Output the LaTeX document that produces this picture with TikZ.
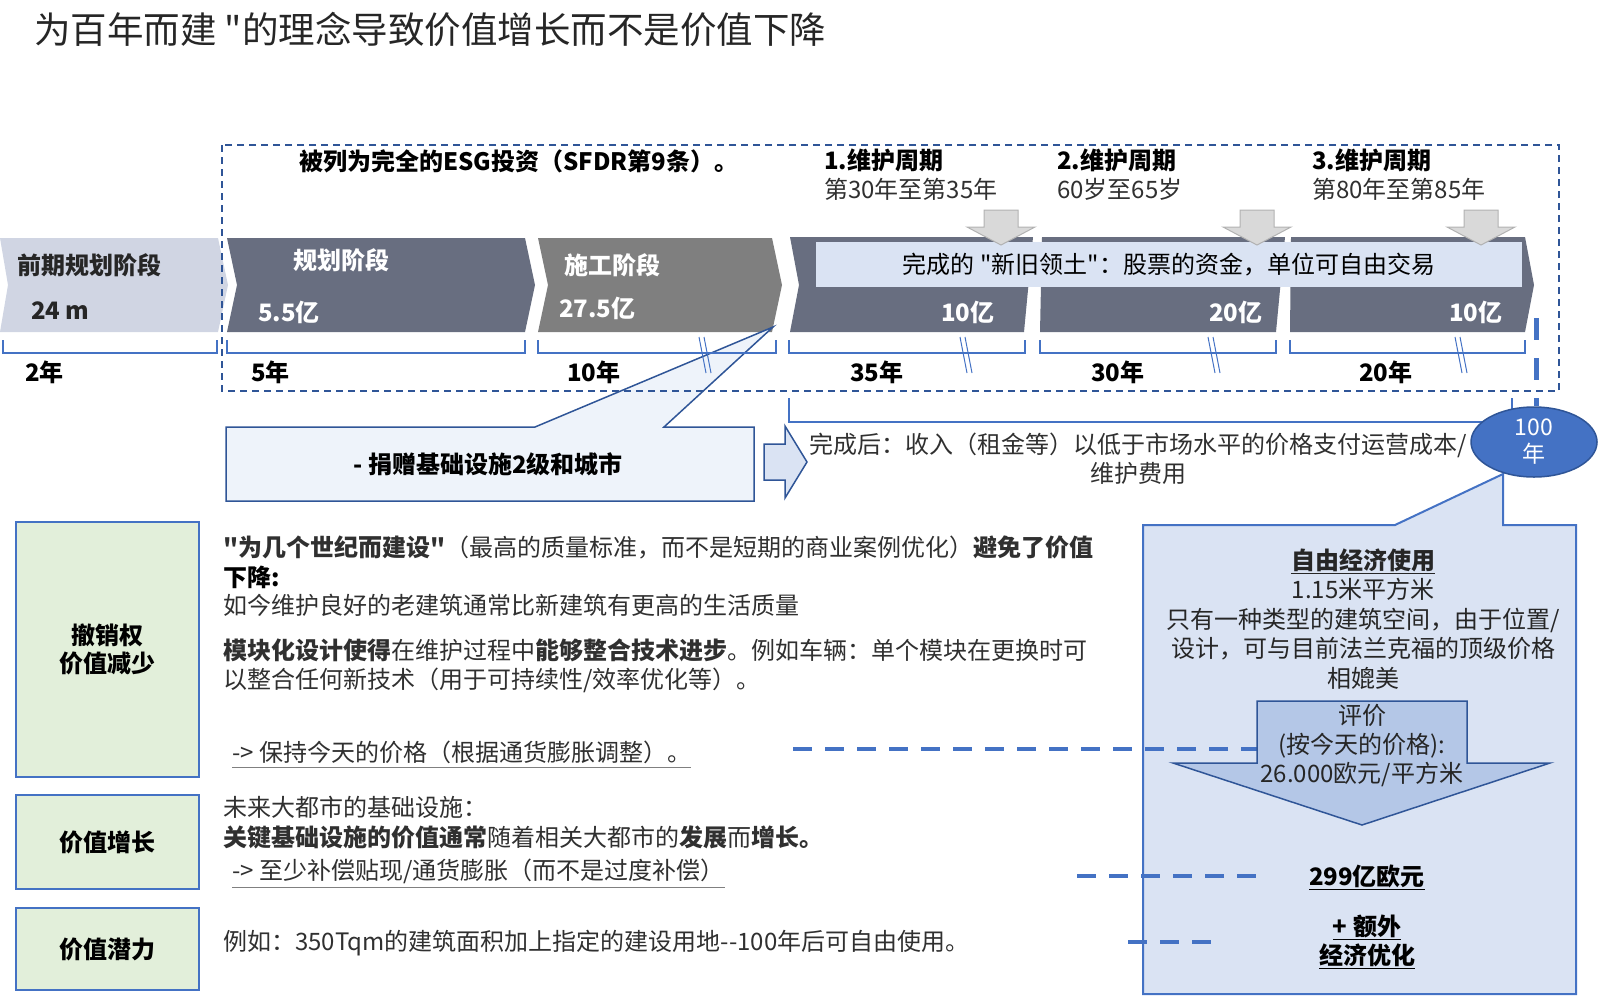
\documentclass[tikz,border=0pt]{standalone}
\usepackage{fontspec}
\setmainfont{Noto Sans CJK SC}
\usepackage{xcolor}
\usepackage{tikz}
\usetikzlibrary{shapes,arrows,positioning,fit}
\usetikzlibrary{shapes.geometric, arrows.meta}

\definecolor{chevlight}{HTML}{D0D5E3}
\definecolor{chevdark}{HTML}{686E80}
\definecolor{chevgray}{HTML}{7F7F7F}
\definecolor{barblue}{HTML}{DAE3F3}
\definecolor{lineblue}{HTML}{4472C4}
\definecolor{navy}{HTML}{2F5597}
\definecolor{calloutfill}{HTML}{EEF3FA}
\definecolor{greenfill}{HTML}{E2EFDA}
\definecolor{arrowgray}{HTML}{D9D9D9}
\definecolor{arrowfill}{HTML}{B4C7E7}
\definecolor{textgray}{HTML}{303030}
\newcommand{\dq}{\XeTeXglyph\XeTeXcharglyph"22\relax}

\begin{document}
\begin{tikzpicture}[x=1pt, y=-1pt]
    \tikzstyle{txt} = [font=\fontsize{24}{29}\selectfont, inner sep=0pt, text=textgray, anchor=west]
    \tikzstyle{btxt} = [txt, font=\fontsize{24}{29}\selectfont\bfseries, text=black]
    \tikzstyle{wtxt} = [btxt, text=white]
    \tikzstyle{brk} = [draw=lineblue, line width=1.3pt]
    \tikzstyle{greenbox} = [rectangle, draw=lineblue, line width=2pt, fill=greenfill,
        minimum width=183pt, font=\fontsize{24}{28}\selectfont\bfseries, align=center]
    \tikzstyle{dashlink} = [draw=lineblue, line width=4pt, dash pattern=on 19pt off 13pt]
    \useasboundingbox (0,0) rectangle (1600,996);

    \node[txt, font=\fontsize{36.5}{42}\selectfont, text=black!85] (title) at (34,29) {为百年而建 \dq 的理念导致价值增长而不是价值下降};

    % Phases
    \fill[chevlight] (0,238) -- (218,238) -- (228,285) -- (218,332) -- (0,332) -- (8,285) -- cycle;
    \fill[chevdark] (227,238) -- (525,238) -- (535,285) -- (525,332) -- (227,332) -- (237,285) -- cycle;
    \fill[chevgray] (538,238) -- (772,238) -- (782,285) -- (772,332) -- (538,332) -- (548,285) -- cycle;
    \fill[chevdark] (790,237) -- (1033,237) -- (1024,332) -- (790,332) -- (799,285) -- cycle;
    \fill[chevdark] (1042,237) -- (1285,237) -- (1276,332) -- (1040,332) -- cycle;
    \fill[chevdark] (1291,237) -- (1525,237) -- (1534,285) -- (1525,332) -- (1290,332) -- cycle;
    \node[rectangle, fill=barblue, minimum width=706pt, minimum height=45pt, inner sep=0pt,
        font=\fontsize{24}{29}\selectfont, text=black] (bar) at (1169,264.5) {完成的 \dq 新旧领土\dq ：股票的资金，单位可自由交易};

    \foreach \x in {1001,1257,1481}
        \draw[draw=black!30, fill=arrowgray, line width=1pt] (\x-17,210) -- (\x+17,210) -- (\x+17,227)
            -- (\x+34,227) -- (\x,245) -- (\x-34,227) -- (\x-17,227) -- cycle;

    \node[btxt, text=black!85] (pre) at (17,265) {前期规划阶段};
    \node[btxt, text=black!85] (premonths) at (31,311) {24 m};
    \node[wtxt] (plan) at (293,260) {规划阶段};
    \node[wtxt] (plancost) at (258,312) {5.5亿};
    \node[wtxt] (build) at (564,265) {施工阶段};
    \node[wtxt] (buildcost) at (559,308) {27.5亿};
    \node[wtxt] (costa) at (941,312) {10亿};
    \node[wtxt] (costb) at (1209,312) {20亿};
    \node[wtxt] (costc) at (1449,312) {10亿};

    \node[btxt] (esg) at (299,161) {被列为完全的ESG投资（SFDR第9条）。};
    \node[btxt] (cyclea) at (824,160) {1.维护周期};
    \node[txt] (cycleayears) at (824,189) {第30年至第35年};
    \node[btxt] (cycleb) at (1057,160) {2.维护周期};
    \node[txt] (cyclebyears) at (1057,189) {60岁至65岁};
    \node[btxt] (cyclec) at (1312,160) {3.维护周期};
    \node[txt] (cyclecyears) at (1312,189) {第80年至第85年};

    % Callout
    \draw[navy, line width=1.5pt, fill=calloutfill] (226,427) -- (535,427) -- (773,327) -- (664,427)
        -- (754,427) -- (754,501) -- (226,501) -- cycle;
    \node[btxt, anchor=center] (donate) at (488,464) {- 捐赠基础设施2级和城市};

    % Brackets
    \foreach \a/\b in {3/217, 227/525, 538/776, 789/1025, 1040/1276, 1290/1525}
        \draw[brk] (\a,340) -- (\a,353) -- (\b,353) -- (\b,340);
    \foreach \x in {699,960,1208,1455} {
        \draw[brk, line width=1pt] (\x,337) -- (\x+7,373);
        \draw[brk, line width=1pt] (\x+5,337) -- (\x+12,373);
    }
    \node[btxt] (ya) at (25,372) {2年};
    \node[btxt] (yb) at (251,372) {5年};
    \node[btxt] (yc) at (567,372) {10年};
    \node[btxt] (yd) at (850,372) {35年};
    \node[btxt] (ye) at (1091,372) {30年};
    \node[btxt] (yf) at (1359,372) {20年};

    \draw[navy, line width=1.5pt, dash pattern=on 7pt off 5pt] (222,145) rectangle (1559,391);

    \draw[navy, line width=1.5pt, fill=barblue] (764,444) -- (785,444) -- (785,426) -- (807,462)
        -- (785,498) -- (785,480) -- (764,480) -- cycle;
    \draw[brk] (789,398) -- (789,422) -- (1512,422) -- (1512,398);
    \node[txt, anchor=center, align=center] (income) at (1138,459) {完成后：收入（租金等）以低于市场水平的价格支付运营成本/\\维护费用};

    % Value box
    \draw[lineblue, line width=2pt, fill=barblue] (1143,525) -- (1395,525) -- (1503,474) -- (1503,525)
        -- (1576,525) -- (1576,994) -- (1143,994) -- cycle;
    \node[ellipse, draw=navy, line width=1.5pt, fill=lineblue, minimum width=126pt, minimum height=70pt,
        inner sep=0pt, text=white, align=center, font=\fontsize{23}{27}\selectfont] (hundred) at (1534,442) {100\\年};
    \coordinate (endmark) at (1536,318);
    \draw[lineblue, line width=5pt, dash pattern=on 22pt off 18pt] (endmark) -- (endmark |- hundred.north);

    \node[txt, anchor=center, align=center, text=black!85, font=\fontsize{24}{29.5}\selectfont] (freeuse) at (1363,619)
        {\textbf{\underline{自由经济使用}}\\1.15米平方米\\只有一种类型的建筑空间，由于位置/\\设计，可与目前法兰克福的顶级价格\\相媲美};

    \coordinate (keepend) at (793,749);
    \coordinate (keeparrow) at (1257,749);
    \coordinate (compend) at (1077,876);
    \coordinate (comptotal) at (1257,876);
    \coordinate (exend) at (1128,942);
    \coordinate (exextra) at (1215,942);
    \draw[dashlink] (keepend) -- (keeparrow);
    \draw[dashlink] (compend) -- (comptotal);
    \draw[dashlink] (exend) -- (exextra);

    \draw[navy, line width=1.5pt, fill=arrowfill] (1257,701) -- (1467,701) -- (1467,763) -- (1550,763)
        -- (1362,825) -- (1173,763) -- (1257,763) -- cycle;
    \node[txt, anchor=center, align=center, text=black!85] (valuation) at (1362,746) {评价\\(按今天的价格):\\26.000欧元/平方米};
    \node[btxt, anchor=center] (total) at (1367,877) {\underline{299亿欧元}};
    \node[btxt, anchor=center, align=center] (extra) at (1367,942) {\underline{+ 额外}\\\underline{经济优化}};

    % Value drivers
    \node[greenbox, minimum height=255pt] (revoke) at (107.5,649.5) {撤销权\\价值减少};
    \node[greenbox, minimum height=94pt] (growth) at (107.5,842) {价值增长};
    \node[greenbox, minimum height=82pt] (potential) at (107.5,949) {价值潜力};

    \node[txt] (centuries) at (223,547) {\textbf{\dq 为几个世纪而建设\dq}（最高的质量标准，而不是短期的商业案例优化）\textbf{避免了价值}};
    \node[btxt] (decline) at (223,577) {下降:};
    \node[txt] (oldbuild) at (223,605) {如今维护良好的老建筑通常比新建筑有更高的生活质量};
    \node[txt] (modular) at (223,650) {\textbf{模块化设计使得}在维护过程中\textbf{能够整合技术进步}。例如车辆：单个模块在更换时可};
    \node[txt] (modularb) at (223,680) {以整合任何新技术（用于可持续性/效率优化等）。};
    \node[txt] (keep) at (232,752) {-> 保持今天的价格（根据通货膨胀调整）。};
    \draw[black!50, line width=1pt] ([yshift=-4pt]keep.south west) -- ([yshift=-4pt]keep.south east);
    \node[txt] (metro) at (223,807) {未来大都市的基础设施：};
    \node[txt] (keyinfra) at (223,837) {\textbf{关键基础设施的价值通常}随着相关大都市的\textbf{发展}而\textbf{增长。}};
    \node[txt] (compensate) at (232,871) {-> 至少补偿贴现/通货膨胀（而不是过度补偿）};
    \draw[black!50, line width=1pt] ([yshift=-4pt]compensate.south west) -- ([yshift=-4pt]compensate.south east);
    \node[txt] (example) at (223,943) {例如：350Tqm的建筑面积加上指定的建设用地-{}-100年后可自由使用。};
\end{tikzpicture}
\end{document}
